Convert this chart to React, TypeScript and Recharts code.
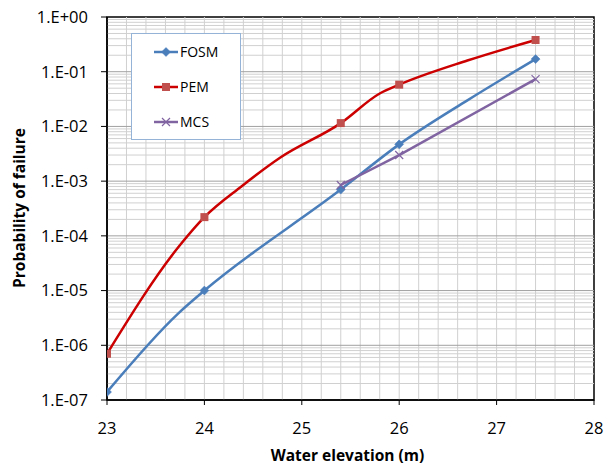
import React from 'react';
import { LineChart, Line, XAxis, YAxis, Legend, ReferenceArea, ReferenceLine } from 'recharts';

// Water elevation (m) and probability of failure for each method
const fosmX = [23, 23.73, 24, 25.4, 26, 26.7, 27.4];
const fosmP = [1.4e-7, 3.8e-6, 1.0e-5, 7.0e-4, 4.7e-3, 0.03, 0.17];
const fosmMarked = [true, false, true, true, true, false, true];

const pemX = [23, 23.75, 24, 24.38, 24.78, 25.4, 25.8, 26, 26.7, 27.4];
const pemP = [7.0e-7, 6.8e-5, 2.2e-4, 8.0e-4, 2.7e-3, 0.0115, 0.04, 0.058, 0.16, 0.38];
const pemMarked = [true, false, true, false, false, true, false, true, false, true];

const mcsX = [25.4, 26, 27.4];
const mcsP = [8.5e-4, 3.0e-3, 0.073];
const mcsMarked = [true, true, true];

const xTicks = [23, 24, 25, 26, 27, 28];
const yTicks = [1e-7, 1e-6, 1e-5, 1e-4, 1e-3, 1e-2, 1e-1, 1];

const seriesNames = ['FOSM', 'PEM', 'MCS'];

const build = (xs: number[], ps: number[], marks: boolean[]) =>
  xs.map((x, i) => ({ x, p: ps[i], m: marks[i] }));

const fosmData = build(fosmX, fosmP, fosmMarked);
const pemData = build(pemX, pemP, pemMarked);
const mcsData = build(mcsX, mcsP, mcsMarked);

const minorY: number[] = [];
yTicks.slice(0, -1).forEach((d) => {
  for (let k = 2; k <= 9; k++) minorY.push(d * k);
});
const vertGrid: number[] = [];
for (let i = 1; i < 25; i++) vertGrid.push(Math.round((23 + i * 0.2) * 10) / 10);

const FONT = '"Open Sans", sans-serif';

const COLORS: Record<string, { line: string; marker: string }> = {
  FOSM: { line: '#4A7EBB', marker: '#4A7EBB' },
  PEM: { line: '#CC0000', marker: '#C0504D' },
  MCS: { line: '#8064A2', marker: '#8064A2' },
};

const fmtY = (v: number) => {
  const e = Math.round(Math.log10(v));
  const s = e >= 0 ? '+' : '-';
  const a = Math.abs(e);
  return `1.E${s}${a < 10 ? '0' : ''}${a}`;
};

const Marker = ({ kind, cx, cy }: { kind: string; cx: number; cy: number }) => {
  if (kind === 'FOSM') {
    const r = 4.5;
    return (
      <path
        d={`M${cx},${cy - r}L${cx + r},${cy}L${cx},${cy + r}L${cx - r},${cy}Z`}
        fill={COLORS.FOSM.marker}
        stroke={COLORS.FOSM.marker}
        strokeWidth={0.5}
      />
    );
  }
  if (kind === 'PEM') {
    const r = 4;
    return <rect x={cx - r} y={cy - r} width={2 * r} height={2 * r} fill={COLORS.PEM.marker} />;
  }
  const r = 4;
  return (
    <path
      d={`M${cx - r},${cy - r}L${cx + r},${cy + r}M${cx - r},${cy + r}L${cx + r},${cy - r}`}
      stroke={COLORS.MCS.marker}
      strokeWidth={1.2}
      fill="none"
    />
  );
};

const makeDot = (kind: string) => (props: any) => {
  const { cx, cy, payload, index } = props;
  if (!payload || !payload.m || cx == null || cy == null) return <g key={`d-${kind}-${index}`} />;
  return (
    <g key={`d-${kind}-${index}`}>
      <Marker kind={kind} cx={cx} cy={cy} />
    </g>
  );
};

const LegendBox = (props: any) => {
  const payload = (props.payload || []) as any[];
  const ordered = seriesNames
    .map((n) => payload.find((p: any) => String(p.value) === n))
    .filter(Boolean);
  return (
    <div
      style={{
        width: 110,
        height: 107,
        border: '1px solid #95B3D7',
        background: '#ffffff',
        boxSizing: 'border-box',
        position: 'relative',
        fontFamily: FONT,
        fontSize: 14,
        color: '#000',
      }}
    >
      {ordered.map((p: any, i: number) => {
        const name = String(p.value);
        const c = COLORS[name];
        return (
          <div
            key={name}
            style={{
              position: 'absolute',
              left: 21,
              top: 18 + i * 35 - 10,
              height: 20,
              display: 'flex',
              alignItems: 'center',
            }}
          >
            <svg width={26} height={20} style={{ display: 'block' }}>
              <line x1={1} y1={10} x2={25} y2={10} stroke={c.line} strokeWidth={2.5} />
              <Marker kind={name} cx={13} cy={10} />
            </svg>
            <span style={{ marginLeft: 1, lineHeight: '20px' }}>{name}</span>
          </div>
        );
      })}
    </div>
  );
};

const XTitle = (props: any) => {
  const vb = props.viewBox || {};
  const cx = (vb.x || 0) + (vb.width || 0) / 2;
  return (
    <text x={cx - 3} y={461} textAnchor="middle" fontFamily={FONT} fontSize={15.5} fontWeight={700} fill="#000">
      Water elevation (m)
    </text>
  );
};

const YTitle = () => (
  <text
    x={25}
    y={208}
    textAnchor="middle"
    transform="rotate(-90 25 208)"
    fontFamily={FONT}
    fontSize={15.5}
    fontWeight={700}
    fill="#000"
  >
    Probability of failure
  </text>
);

export default function App() {
  return (
    <div style={{ position: 'absolute', left: 0, top: 0, background: '#fff' }}>
      <LineChart width={606} height={467} margin={{ top: 17, right: 12, bottom: 0, left: 0 }}>
        <XAxis
          type="number"
          dataKey="x"
          domain={[23, 28]}
          ticks={xTicks}
          allowDataOverflow
          height={67}
          tickSize={5}
          tickMargin={17}
          axisLine={{ stroke: '#000', strokeWidth: 1.5 }}
          tickLine={{ stroke: '#000' }}
          tick={{ fill: '#000', fontFamily: FONT, fontSize: 16.5 }}
          label={<XTitle />}
        />
        <YAxis
          type="number"
          scale="log"
          dataKey="p"
          domain={[1e-7, 1]}
          ticks={yTicks}
          allowDataOverflow
          width={107}
          tickSize={6}
          tickMargin={13}
          tickFormatter={fmtY}
          axisLine={{ stroke: '#000', strokeWidth: 1.5 }}
          tickLine={{ stroke: '#000' }}
          tick={{ fill: '#000', fontFamily: FONT, fontSize: 16.5 }}
          label={<YTitle />}
        />
        {vertGrid.map((v) => (
          <ReferenceLine key={`vx-${v}`} x={v} stroke="#D0D0D0" strokeWidth={1} ifOverflow="hidden" />
        ))}
        {minorY.map((v) => (
          <ReferenceLine key={`my-${v}`} y={v} stroke="#D0D0D0" strokeWidth={1} ifOverflow="hidden" />
        ))}
        {yTicks.slice(1, -1).map((v) => (
          <ReferenceLine key={`My-${v}`} y={v} stroke="#A0A0A0" strokeWidth={1} ifOverflow="hidden" />
        ))}
        <ReferenceArea
          x1={23}
          x2={28}
          y1={1e-7}
          y2={1}
          fill="none"
          stroke="#000"
          strokeWidth={1.5}
          ifOverflow="visible"
        />
        <Legend
          layout="vertical"
          align="center"
          verticalAlign="middle"
          content={<LegendBox />}
          wrapperStyle={{ left: 131, top: 33, width: 110, height: 107 }}
        />
        <Line
          name={seriesNames[0]}
          data={fosmData}
          dataKey="p"
          type="monotone"
          stroke={COLORS.FOSM.line}
          strokeWidth={2.5}
          dot={makeDot('FOSM')}
          activeDot={false}
          isAnimationActive={false}
        />
        <Line
          name={seriesNames[1]}
          data={pemData}
          dataKey="p"
          type="monotone"
          stroke={COLORS.PEM.line}
          strokeWidth={2.5}
          dot={makeDot('PEM')}
          activeDot={false}
          isAnimationActive={false}
        />
        <Line
          name={seriesNames[2]}
          data={mcsData}
          dataKey="p"
          type="linear"
          stroke={COLORS.MCS.line}
          strokeWidth={2.5}
          dot={makeDot('MCS')}
          activeDot={false}
          isAnimationActive={false}
        />
      </LineChart>
    </div>
  );
}
